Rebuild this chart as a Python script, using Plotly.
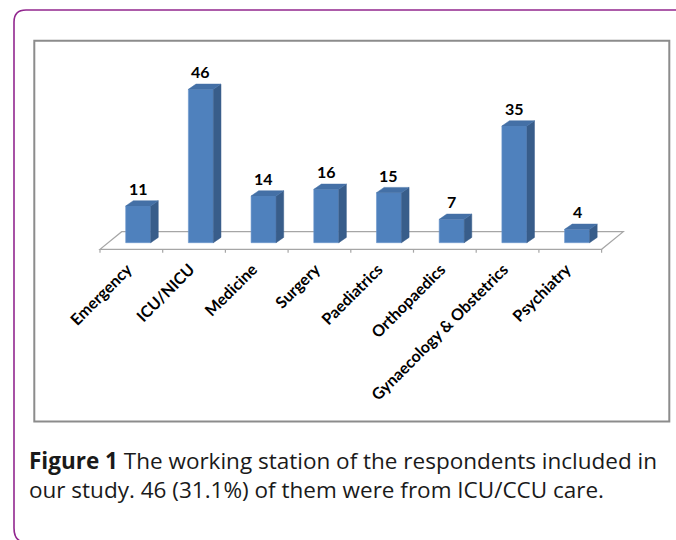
import plotly.graph_objects as go

# ---- data ----
categories = ["Emergency", "ICU/NICU", "Medicine", "Surgery", "Paediatrics",
              "Orthopaedics", "Gynaecology & Obstetrics", "Psychiatry"]
values = [11, 46, 14, 16, 15, 7, 35, 4]
caption_bold = "Figure 1"
caption_line1 = " The working station of the respondents included in"
caption_line2 = "our study. 46 (31.1%) of them were from ICU/CCU care."

# ---- geometry (pixel layout of the 676x540 page) ----
W, H = 676, 540
PX_PER_CAT = 62.7
PX_PER_VAL = 10 / 3
CAT0_PX = 131.35      # pixel x of first category centre on the floor front edge
BASE_PX = 242.7       # pixel y of value 0 (bar base)
PLOT_BOTTOM_PX = 256

def px(x):
    return x / W

def py(y):
    return 1 - y / H

x_range = [-CAT0_PX / PX_PER_CAT, (W - CAT0_PX) / PX_PER_CAT]
y_range = [-(PLOT_BOTTOM_PX - BASE_PX) / PX_PER_VAL, BASE_PX / PX_PER_VAL]

bar_off = 0.109          # front face centre offset (category units)
bar_w = 0.3987           # front face width
dep_x = 7.6 / PX_PER_CAT  # depth offset in x
dep_y = 5.3 / PX_PER_VAL  # depth offset in y (value units)
label_shift = -4 / PX_PER_CAT

floor_front = -1.98
floor_back = 3.3
floor_dx = 21.7 / PX_PER_CAT
tick_bottom = -3.0

FRONT = "#4F81BD"
SIDE = "#385D8A"
TOP = "#4470A6"

fig = go.Figure()

# front faces
fig.add_trace(go.Bar(
    x=[i + bar_off for i in range(len(values))], y=values, width=bar_w,
    marker=dict(color=FRONT, line=dict(width=0.6, color="#6A96CC")),
    hoverinfo="skip", showlegend=False))

# side and top faces computed from values
for i, v in enumerate(values):
    xl = i + bar_off - bar_w / 2
    xr = i + bar_off + bar_w / 2
    fig.add_trace(go.Scatter(
        x=[xr, xr + dep_x, xr + dep_x, xr, xr],
        y=[0, dep_y, v + dep_y, v, 0],
        fill="toself", fillcolor=SIDE, mode="lines",
        line=dict(width=0.5, color=SIDE), hoverinfo="skip", showlegend=False))
    fig.add_trace(go.Scatter(
        x=[xl, xr, xr + dep_x, xl + dep_x, xl],
        y=[v, v, v + dep_y, v + dep_y, v],
        fill="toself", fillcolor=TOP, mode="lines",
        line=dict(width=0.5, color=TOP), hoverinfo="skip", showlegend=False))

shapes = []
FLOOR = "#A6A6A6"
n = len(values)
lo, hi = -0.5, n - 0.5
shapes.append(dict(type="path", xref="x", yref="y", layer="below",
                   path=f"M {lo},{floor_front} L {hi},{floor_front} L {hi + floor_dx},{floor_back} "
                        f"L {lo + floor_dx},{floor_back} Z",
                   line=dict(color=FLOOR, width=1.2), fillcolor="rgba(0,0,0,0)"))
for k in range(n + 1):
    shapes.append(dict(type="line", xref="x", yref="y", layer="below",
                       x0=k - 0.5, x1=k - 0.5, y0=floor_front, y1=tick_bottom,
                       line=dict(color=FLOOR, width=1.2)))

# gray chart box
shapes.append(dict(type="rect", xref="paper", yref="paper", layer="below",
                   x0=px(34.3), x1=px(669.3), y0=py(421.5), y1=py(40.7),
                   line=dict(color="#8C8C8C", width=2)))
# purple frame
shapes.append(dict(type="path", xref="paper", yref="paper", layer="below",
                   path=f"M {px(680)},{py(10)} L {px(26)},{py(10)} Q {px(14)},{py(10)} {px(14)},{py(22)} "
                        f"L {px(14)},{py(528)} Q {px(14)},{py(538)} {px(20)},{py(541)}",
                   line=dict(color="#92278F", width=1.6)))

annotations = []
for i, v in enumerate(values):
    annotations.append(dict(x=i + bar_off, y=v, xref="x", yref="y", text=f"{v}",
                            showarrow=False, yanchor="middle", yshift=17.5,
                            font=dict(family="Lato", size=16, weight="bold", color="#000000")))

annotations.append(dict(x=px(27), y=py(474.5), xref="paper", yref="paper",
                        text=f"<b>{caption_bold}</b>{caption_line1}<br>{caption_line2}",
                        showarrow=False, align="left",
                        xanchor="left", yanchor="middle",
                        font=dict(family="Open Sans", size=22.5, color="#1A1A1A")))

fig.update_layout(
    width=W, height=H,
    margin=dict(l=0, r=0, t=0, b=0),
    paper_bgcolor="white", plot_bgcolor="rgba(0,0,0,0)",
    shapes=shapes, annotations=annotations,
    xaxis=dict(range=x_range, domain=[0, 1], showgrid=False, zeroline=False,
               showline=False, ticks="", tickmode="array",
               tickvals=[i + label_shift for i in range(n)], ticktext=categories, tickangle=-45,
               tickfont=dict(family="Lato", size=16, weight="bold", color="#000000"),
               automargin=False, fixedrange=True),
    yaxis=dict(range=y_range, domain=[1 - PLOT_BOTTOM_PX / H, 1], visible=False,
               automargin=False, fixedrange=True),
    showlegend=False,
)

fig.write_html("out.html", config={"displayModeBar": False},
               post_script="document.body.style.margin='0';document.body.style.overflow='hidden';")
